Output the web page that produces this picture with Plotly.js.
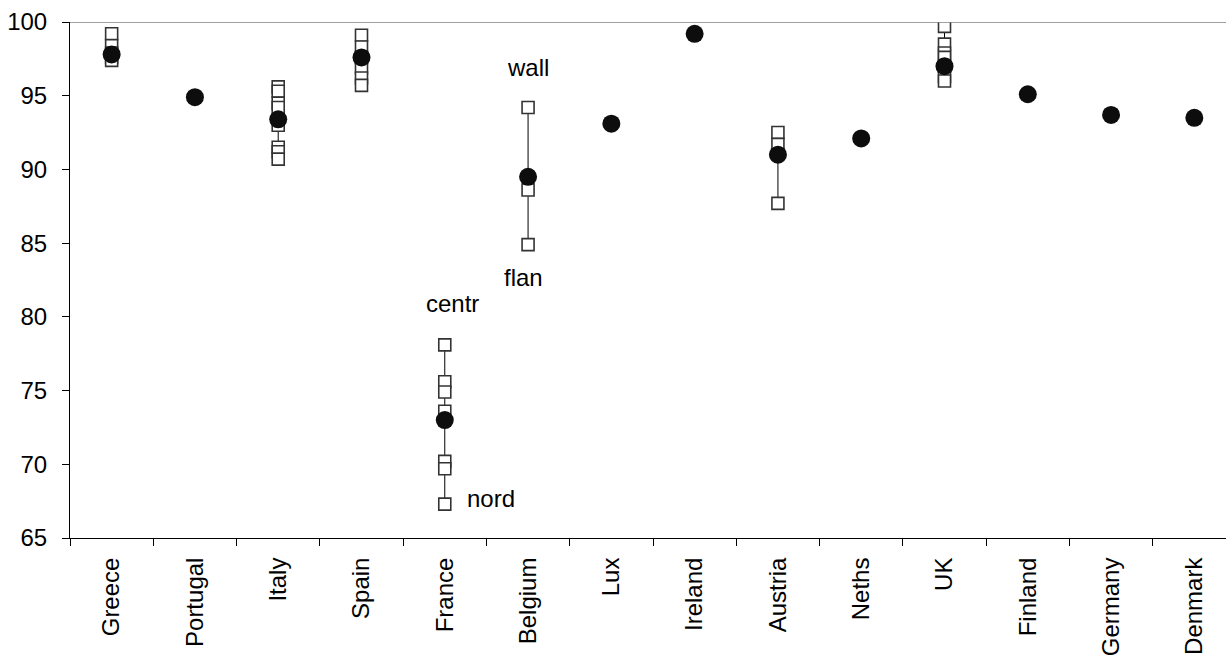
<!DOCTYPE html>
<html>
<head>
<meta charset="utf-8">
<script src="https://cdn.plot.ly/plotly-3.0.1.min.js"></script>
<style>html,body{margin:0;padding:0;background:#fff}#chart{width:1226px;height:661px}</style>
</head>
<body>
<div id="chart"></div>
<script>
// Categories (countries)
const countries = ["Greece","Portugal","Italy","Spain","France","Belgium","Lux","Ireland","Austria","Neths","UK","Finland","Germany","Denmark"];
// National values (filled circles)
const nationalValues = [97.8, 94.9, 93.4, 97.6, 73.0, 89.5, 93.1, 99.2, 91.0, 92.1, 97.0, 95.1, 93.7, 93.5];
// Regional values (open squares)
const greeceRegions  = [99.2, 98.4, 97.9, 97.6, 97.4];
const italyRegions   = [95.6, 95.3, 94.5, 94.2, 93.0, 91.5, 91.2, 90.7];
const spainRegions   = [99.1, 98.3, 97.6, 96.9, 96.2, 95.7];
const franceRegions  = [78.1, 75.6, 74.9, 73.6, 70.2, 69.7, 67.3];
const belgiumRegions = [94.2, 88.6, 84.9];
const austriaRegions = [92.5, 91.7, 87.7];
const ukRegions      = [99.7, 98.5, 97.9, 97.6, 97.0, 96.3, 96.0];
const regionCountries = ["Greece","Italy","Spain","France","Belgium","Austria","UK"];
const regionSets = [greeceRegions, italyRegions, spainRegions, franceRegions, belgiumRegions, austriaRegions, ukRegions];
// Region labels
const regionLabels = [
  {country:"France", value:80.9, text:"centr", shift:8},
  {country:"France", value:67.7, text:"nord", shift:46},
  {country:"Belgium", value:96.9, text:"wall", shift:0},
  {country:"Belgium", value:82.7, text:"flan", shift:-5}
];
const yTicks = [65,70,75,80,85,90,95,100];

const rx = [], ry = [];
regionCountries.forEach((c, i) => {
  const vals = regionSets[i].slice().sort((a,b)=>b-a);
  vals.forEach(v => { rx.push(c); ry.push(v); });
  rx.push(c); ry.push(null);
});

const FONT = "Liberation Sans, Arial, sans-serif";

const traces = [
  {
    type: "scatter", mode: "lines+markers", x: rx, y: ry, connectgaps: false,
    line: {color: "#000", width: 1},
    marker: {symbol: "square", size: 12, color: "#fff", line: {width: 1.6, color: "#333"}},
    hoverinfo: "x+y", showlegend: false
  },
  {
    type: "scatter", mode: "markers", x: countries, y: nationalValues,
    marker: {symbol: "circle", size: 18, color: "#0d0d0d"},
    showlegend: false
  }
];

const layout = {
  width: 1226, height: 661,
  margin: {l: 70, r: 0, t: 22, b: 123, pad: 0},
  paper_bgcolor: "#fff", plot_bgcolor: "#fff",
  font: {family: FONT, size: 24, color: "#000"},
  showlegend: false,
  xaxis: {
    type: "category", categoryorder: "array", categoryarray: countries,
    range: [-0.5, 13.38],
    showgrid: false, zeroline: false,
    showline: true, linecolor: "#000", linewidth: 1,
    ticks: "outside", tickson: "boundaries", ticklen: 7, tickcolor: "#000", tickwidth: 1,
    tickangle: -90, tickfont: {family: FONT, size: 24, color: "#000"},
    ticklabelstandoff: 9,
    fixedrange: true
  },
  yaxis: {
    range: [65, 100], tickvals: yTicks, ticktext: yTicks.map(String),
    showgrid: false, zeroline: false,
    showline: true, linecolor: "#000", linewidth: 1,
    ticks: "outside", ticklen: 7, tickcolor: "#000", tickwidth: 1,
    tickfont: {family: FONT, size: 24, color: "#000"},
    ticklabelstandoff: 10,
    fixedrange: true
  },
  shapes: [
    {type: "line", xref: "paper", yref: "y", x0: 0, x1: 1, y0: 100, y1: 100, line: {color: "#808080", width: 1.5}}
  ],
  annotations: regionLabels.map(l => ({
    x: l.country, y: l.value, text: l.text, showarrow: false,
    xshift: l.shift, font: {family: FONT, size: 24, color: "#000"}
  }))
};

Plotly.newPlot("chart", traces, layout, {displayModeBar: false, staticPlot: true});
</script>
</body>
</html>
